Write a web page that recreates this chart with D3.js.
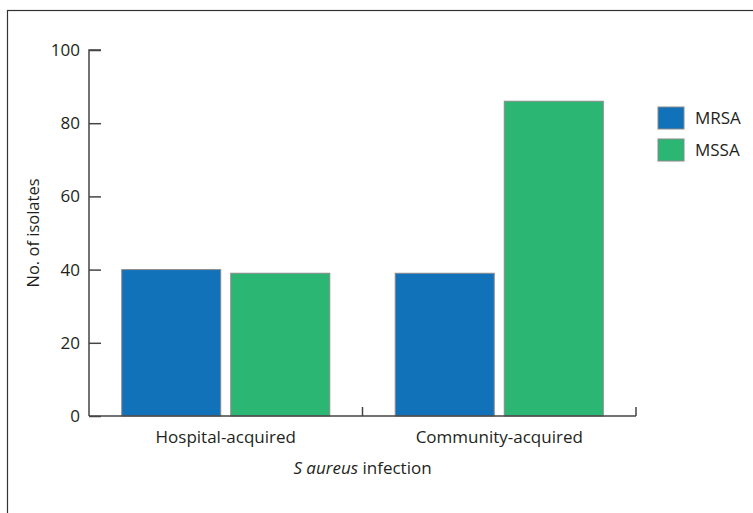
<!DOCTYPE html>
<html><head><meta charset="utf-8">
<script src="https://cdn.jsdelivr.net/npm/d3@7"></script>
<style>body{margin:0;background:#fff}svg{display:block}text{font-family:"Open Sans",sans-serif;fill:#231f20}</style>
</head><body><svg id="c" width="753" height="513"></svg>
<script>
const categories = ["Hospital-acquired", "Community-acquired"];
const series = ["MRSA", "MSSA"];
const mrsaValues = [40, 39];
const mssaValues = [39, 86];
const yTicks = [0, 20, 40, 60, 80, 100];
const colors = {MRSA: "#1172ba", MSSA: "#2bb673"};

const data = categories.map((c, i) => ({cat: c, MRSA: mrsaValues[i], MSSA: mssaValues[i]}));
const svg = d3.select("#c");
svg.append("rect").attr("x", 7.5).attr("y", 10.5).attr("width", 760).attr("height", 520)
  .attr("fill", "none").attr("stroke", "#333").attr("stroke-width", 1.2);

const x0 = 89, x1 = 636, yTop = 50, yBot = 416;
const x = d3.scaleBand().domain(categories).range([x0, x1]).paddingInner(0).paddingOuter(0);
const xs = d3.scaleBand().domain(series).range([0, x.bandwidth()]).paddingInner(0.092).paddingOuter(0.3);
const y = d3.scaleLinear().domain([0, 100]).range([yBot, yTop]);

const axisColor = "#444";
// Y axis
const ya = svg.append("g").attr("transform", `translate(${x0},0)`)
  .call(d3.axisRight(y).tickValues(yTicks).tickSize(12).tickFormat(""));
ya.select(".domain").attr("stroke", axisColor).attr("stroke-width", 1.5).attr("d", `M12,${yTop}H0V${yBot}`);
ya.selectAll(".tick line").attr("stroke", axisColor).attr("stroke-width", 1.5);
svg.append("g").selectAll("text").data(yTicks).join("text")
  .attr("x", 80).attr("y", d => y(d) + 6).attr("text-anchor", "end")
  .attr("font-size", 17).text(d => d);

// bars
const g = svg.append("g");
data.forEach(d => {
  g.selectAll(null).data(series).join("rect")
    .attr("x", s => x(d.cat) + xs(s)).attr("width", xs.bandwidth())
    .attr("y", s => y(d[s])).attr("height", s => y(0) - y(d[s]))
    .attr("fill", s => colors[s]).attr("stroke", "#8a8a8a").attr("stroke-width", 1);
});

// X axis
const xa = svg.append("g");
xa.append("line").attr("x1", x0).attr("x2", x1).attr("y1", yBot).attr("y2", yBot)
  .attr("stroke", axisColor).attr("stroke-width", 1.5);
xa.selectAll(".bt").data(categories).join("line").attr("class", "bt")
  .attr("x1", d => x(d) + x.bandwidth()).attr("x2", d => x(d) + x.bandwidth())
  .attr("y1", yBot).attr("y2", yBot - 9).attr("stroke", axisColor).attr("stroke-width", 1.5);
xa.selectAll(".lab").data(categories).join("text").attr("class", "lab")
  .attr("x", d => x(d) + x.bandwidth() / 2).attr("y", 443).attr("text-anchor", "middle")
  .attr("font-size", 17).text(d => d);

const xt = svg.append("text").attr("x", (x0 + x1) / 2).attr("y", 474).attr("text-anchor", "middle").attr("font-size", 17);
xt.append("tspan").attr("font-style", "italic").text("S aureus");
xt.append("tspan").text(" infection");

svg.append("text").attr("transform", `translate(39,${(yTop + yBot) / 2}) rotate(-90)`)
  .attr("text-anchor", "middle").attr("font-size", 16.5).text("No. of isolates");

// legend
const lg = svg.append("g").selectAll("g").data(series).join("g")
  .attr("transform", (d, i) => `translate(658,${107 + i * 32})`);
lg.append("rect").attr("width", 26).attr("height", 22).attr("fill", d => colors[d]).attr("stroke", "#8a8a8a");
lg.append("text").attr("x", 37).attr("y", 17).attr("font-size", 17).text(d => d);
</script></body></html>
